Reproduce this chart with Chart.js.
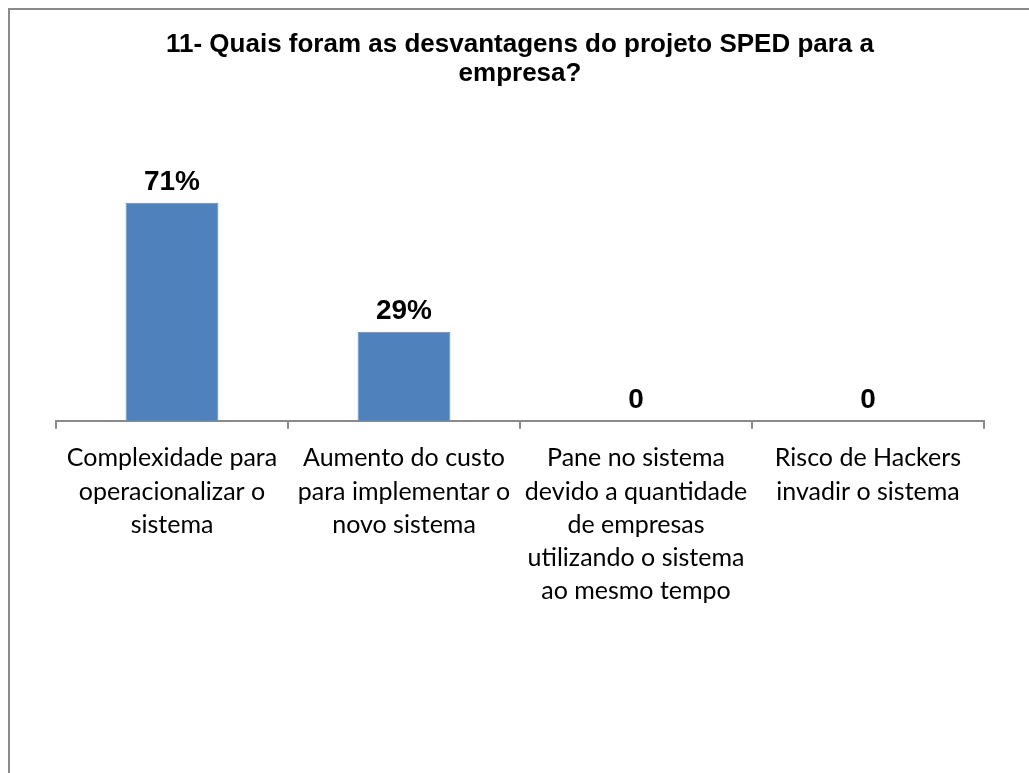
<!DOCTYPE html>
<html>
<head>
<meta charset="utf-8">
<script src="https://cdn.jsdelivr.net/npm/chart.js@4/dist/chart.umd.min.js"></script>
<style>
  html, body { margin: 0; padding: 0; background: #fff; overflow: hidden; }
  #frame {
    position: absolute; left: 8px; top: 8px;
    width: 1100px; height: 900px;
    border: 2px solid #8a8a8a; box-sizing: border-box;
  }
  #wrap { position: absolute; left: 0; top: 0; width: 1029px; height: 773px; }
</style>
</head>
<body>
<div id="frame"></div>
<div id="wrap"><canvas id="chart"></canvas></div>
<script>
// data
const titleLines = ['11- Quais foram as desvantagens do projeto SPED para a', 'empresa?'];
const categories = [
  ['Complexidade para', 'operacionalizar o', 'sistema'],
  ['Aumento do custo', 'para implementar o', 'novo sistema'],
  ['Pane no sistema', 'devido a quantidade', 'de empresas', 'utilizando o sistema', 'ao mesmo tempo'],
  ['Risco de Hackers', 'invadir o sistema']
];
const percentValues = [71, 29, 0, 0];
const valueLabels = ['71%', '29%', '0', '0'];

const axisGray = '#8a8a8a';

// draws the bold value above each bar
const barValueLabels = {
  id: 'barValueLabels',
  afterDatasetsDraw(chart) {
    const ctx = chart.ctx;
    const meta = chart.getDatasetMeta(0);
    ctx.save();
    ctx.font = 'bold 28px "Liberation Sans", Arial, sans-serif';
    ctx.fillStyle = '#000';
    ctx.textAlign = 'center';
    ctx.textBaseline = 'alphabetic';
    meta.data.forEach((bar, i) => {
      ctx.fillText(valueLabels[i], bar.x, bar.y - 13);
    });
    ctx.restore();
  }
};

new Chart(document.getElementById('chart'), {
  type: 'bar',
  data: {
    labels: categories,
    datasets: [{
      data: percentValues,
      backgroundColor: '#4F81BD',
      borderColor: '#5b8ac4',
      borderWidth: 1,
      categoryPercentage: 0.8,
      barPercentage: 0.5
    }]
  },
  options: {
    responsive: true,
    maintainAspectRatio: false,
    animation: false,
    layout: { padding: { left: 56, right: 45, top: 0, bottom: 152 } },
    plugins: {
      legend: { display: false },
      tooltip: { enabled: false },
      title: {
        display: true,
        text: titleLines,
        color: '#000',
        font: { family: '"Liberation Sans", Arial, sans-serif', size: 26, weight: 'bold', lineHeight: 1.1 },
        padding: { top: 31, bottom: 87 }
      }
    },
    scales: {
      x: {
        grid: {
          display: true,
          drawOnChartArea: false,
          drawTicks: true,
          tickLength: 8,
          color: axisGray,
          lineWidth: 2
        },
        border: { display: true, color: axisGray, width: 2 },
        ticks: {
          color: '#000',
          autoSkip: false,
          maxRotation: 0,
          minRotation: 0,
          padding: 13,
          font: { family: 'Lato, "Open Sans", sans-serif', size: 25, lineHeight: 1.33 }
        }
      },
      y: {
        display: false,
        min: 0,
        max: 80
      }
    }
  },
  plugins: [barValueLabels]
});
</script>
</body>
</html>
